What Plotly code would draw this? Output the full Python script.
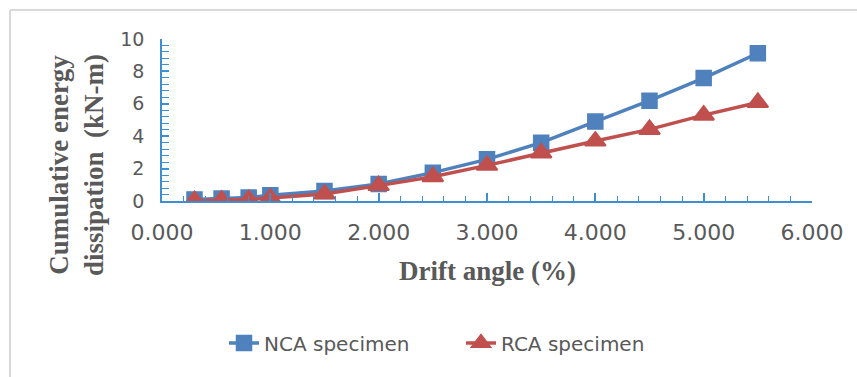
import plotly.graph_objects as go

drift = [0.3, 0.55, 0.8, 1.0, 1.5, 2.0, 2.5, 3.0, 3.5, 4.0, 4.5, 5.0, 5.5]
nca = [0.10, 0.15, 0.22, 0.35, 0.62, 1.05, 1.75, 2.57, 3.60, 4.90, 6.19, 7.59, 9.12]
rca = [0.02, 0.05, 0.09, 0.18, 0.43, 0.95, 1.50, 2.20, 2.97, 3.70, 4.42, 5.30, 6.08]
x_ticks = [0, 1, 2, 3, 4, 5, 6]
y_ticks = [0, 2, 4, 6, 8, 10]

W, H = 857, 377
L, R, T, B = 162, 45, 39, 176
pw, ph = W - L - R, H - T - B

def px(xp):
    return (xp - L) / pw

def py(yp):
    return (H - B - yp) / ph

AX = "#3E8ED0"
TXT = "#595959"

fig = go.Figure()
fig.add_trace(go.Scatter(
    x=drift, y=nca, name="NCA specimen", mode="lines+markers",
    line=dict(color="#4F81BD", width=3.5),
    marker=dict(symbol="square", size=15, color="#4F81BD",
                line=dict(color="#4F81BD", width=1.5)),
))
fig.add_trace(go.Scatter(
    x=drift, y=rca, name="RCA specimen", mode="lines+markers",
    line=dict(color="#C0504D", width=3.5),
    marker=dict(symbol="triangle-up", size=18, color="#C0504D",
                line=dict(color="#C0504D", width=2)),
))

fig.update_layout(
    width=W, height=H,
    margin=dict(l=L, r=R, t=T, b=B, pad=0),
    paper_bgcolor="white", plot_bgcolor="white",
    showlegend=True,
    legend=dict(orientation="h", x=px(224), y=py(343), xanchor="left",
                yanchor="middle", entrywidth=192, entrywidthmode="pixels",
                font=dict(family="DejaVu Sans", size=20, color=TXT),
                bgcolor="rgba(0,0,0,0)"),
    xaxis=dict(range=[0, 6], tickvals=x_ticks, tickformat=".3f",
               showgrid=False, zeroline=False, showline=True,
               linecolor=AX, linewidth=1.5,
               ticks="inside", ticklen=8, tickcolor=AX, tickwidth=1.5,
               minor=dict(dtick=0.2, ticks="inside", ticklen=5,
                          tickcolor=AX, tickwidth=1.2, showgrid=False),
               ticklabelstandoff=11,
               tickfont=dict(family="DejaVu Sans", size=22, color=TXT)),
    yaxis=dict(range=[0, 10], tickvals=y_ticks,
               showgrid=False, zeroline=False, showline=True,
               linecolor=AX, linewidth=1.5,
               ticks="inside", ticklen=7, tickcolor=AX, tickwidth=1.5,
               minor=dict(dtick=0.4, ticks="inside", ticklen=7,
                          tickcolor=AX, tickwidth=1.2, showgrid=False),
               ticklabelstandoff=12,
               tickfont=dict(family="DejaVu Sans", size=19, color=TXT)),
)

fig.add_annotation(
    text="Cumulative energy<br>dissipation\u00a0\u00a0(kN-m)",
    xref="paper", yref="paper", x=px(76), y=py(165),
    xanchor="center", yanchor="middle", textangle=-90, showarrow=False,
    font=dict(family="Liberation Serif", size=27, color=TXT, weight="bold"),
)
fig.add_annotation(
    text="Drift angle (%)",
    xref="paper", yref="paper", x=px(487), y=py(271),
    xanchor="center", yanchor="middle", showarrow=False,
    font=dict(family="Liberation Serif", size=27, color=TXT, weight="bold"),
)

# chart frame (top and left edges visible)
fig.add_shape(type="line", xref="paper", yref="paper",
              x0=px(10), y0=py(10), x1=px(W + 5), y1=py(10),
              line=dict(color="#D9D9D9", width=2))
fig.add_shape(type="line", xref="paper", yref="paper",
              x0=px(10), y0=py(10), x1=px(10), y1=py(H + 5),
              line=dict(color="#D9D9D9", width=2))

fig.write_html("out.html")
